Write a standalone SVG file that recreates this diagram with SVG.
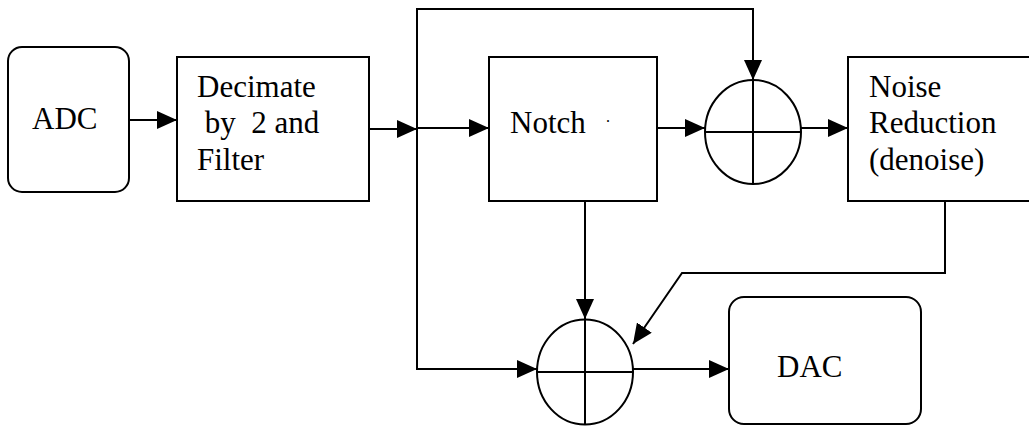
<svg xmlns="http://www.w3.org/2000/svg" width="1029" height="426" viewBox="0 0 1029 426">
<style>
.box{fill:#fff;stroke:#000;stroke-width:2}
.sum{fill:#fff;stroke:#000;stroke-width:2}
.cross{fill:none;stroke:#000;stroke-width:2}
.wire{fill:none;stroke:#000;stroke-width:2;marker-end:url(#ah)}
.lbl{font-size:31px;fill:#000}
</style>
<defs>
<marker id="ah" markerUnits="userSpaceOnUse" markerWidth="20" markerHeight="18" refX="20" refY="9" orient="auto">
<path d="M0,0 L20,9 L0,18 z" fill="#000"/>
</marker>
</defs>
<rect width="1029" height="426" fill="#fff"/>
<g id="connectors">
<path class="wire" d="M129,120 H177"/>
<path class="wire" d="M369,129 H417"/>
<path class="wire" d="M417,128 H489"/>
<path class="wire" d="M417,129 V9 H753 V80"/>
<path class="wire" d="M657,128 H705"/>
<path class="wire" d="M801,128 H848"/>
<path class="wire" d="M417,129 V369 H537"/>
<path class="wire" d="M585,201 V319"/>
<path class="wire" d="M945,201 V273 H682 L633,344"/>
<path class="wire" d="M633,369 H729"/>
</g>
<g font-family="Liberation Serif, DejaVu Serif, serif">
<g id="adc">
<rect class="box" x="8" y="47" width="121" height="145" rx="14"/>
<text class="lbl" x="32" y="129">ADC</text>
</g>
<g id="decimate">
<rect class="box" x="177" y="57" width="192" height="144"/>
<text class="lbl" x="197" y="97">Decimate</text>
<text class="lbl" x="197" y="133" xml:space="preserve" style="white-space:pre"> by  2 and</text>
<text class="lbl" x="197" y="170">Filter</text>
</g>
<g id="notch">
<rect class="box" x="489" y="57" width="168" height="144"/>
<text class="lbl" x="510" y="133">Notch</text>
<text class="lbl" x="606" y="122" style="font-size:16px">.</text>
</g>
<g id="sum1">
<ellipse class="sum" cx="753" cy="132" rx="48" ry="52"/>
<path class="cross" d="M705,132 H801 M753,80 V184"/>
</g>
<g id="noise-reduction">
<rect class="box" x="848" y="57" width="190" height="144"/>
<text class="lbl" x="869" y="97">Noise</text>
<text class="lbl" x="869" y="133">Reduction</text>
<text class="lbl" x="869" y="170">(denoise)</text>
</g>
<g id="sum2">
<ellipse class="sum" cx="585" cy="372" rx="48" ry="52.5"/>
<path class="cross" d="M537,372 H633 M585,319.5 V424.5"/>
</g>
<g id="dac">
<rect class="box" x="729" y="297" width="192" height="127" rx="15"/>
<text class="lbl" x="777" y="377">DAC</text>
</g>
</g>
</svg>
